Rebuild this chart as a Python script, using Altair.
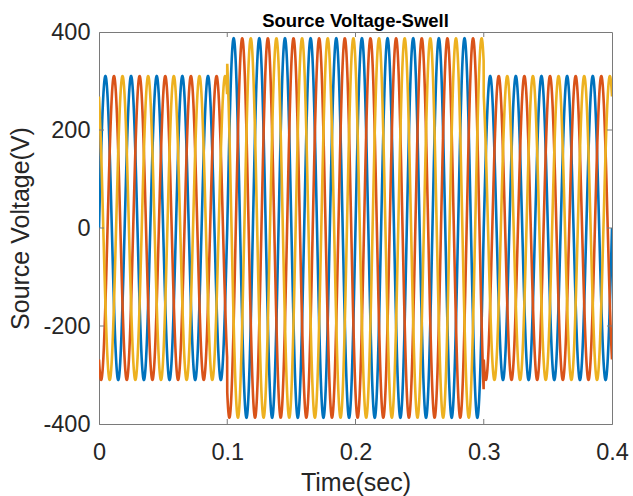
import numpy as np
import pandas as pd
import altair as alt

# Values
frequency_hz = [50]
segment_starts = [0.0, 0.1, 0.3]
segment_ends = [0.1, 0.3, 0.4]
segment_amplitudes = [310, 387, 310]
phase_names = ["Va", "Vb", "Vc"]
phase_shift_deg = [0, -120, 120]
phase_colors = ["#0072BD", "#D95319", "#EDB120"]
x_ticks = [0, 0.1, 0.2, 0.3, 0.4]
y_ticks = [-400, -200, 0, 200, 400]

t = np.linspace(0, 0.4, 4001)
amp = np.zeros_like(t)
for s, e, a in zip(segment_starts, segment_ends, segment_amplitudes):
    amp[(t >= s - 1e-12) & (t <= e + 1e-12)] = a
rows = []
for name, ph in zip(phase_names, phase_shift_deg):
    v = amp * np.sin(2 * np.pi * frequency_hz[0] * t + np.deg2rad(ph))
    rows.append(pd.DataFrame({"t": t, "v": v, "phase": name}))
df = pd.concat(rows, ignore_index=True)

W, H = 513, 392
xs = alt.Scale(domain=[0, 0.4], nice=False, zero=False)
ys = alt.Scale(domain=[-400, 400], nice=False)

lines = alt.Chart(df).mark_line(strokeWidth=2.6, clip=True).encode(
    x=alt.X("t:Q", scale=xs,
            axis=alt.Axis(values=x_ticks, labelExpr="datum.value + ''", title="Time(sec)",
                          labelFlush=False, labelOverlap=False,
                          grid=False, ticks=False, labelPadding=16, titlePadding=7)),
    y=alt.Y("v:Q", scale=ys,
            axis=alt.Axis(values=y_ticks, labelExpr="datum.value + ''", title="Source Voltage(V)",
                          labelFlush=False, labelOverlap=False,
                          grid=False, ticks=False, labelPadding=9, titlePadding=9)),
    color=alt.Color("phase:N", scale=alt.Scale(domain=phase_names, range=phase_colors), legend=None),
)

xt = pd.DataFrame({"x": x_ticks[1:-1]})
yt = pd.DataFrame({"y": y_ticks[1:-1]})
tick_color = "#7a7a7a"
xb = alt.Chart(xt).mark_rule(color=tick_color, strokeWidth=1).encode(
    x=alt.X("x:Q", scale=xs), y=alt.value(H), y2=alt.value(H - 5))
xtp = alt.Chart(xt).mark_rule(color=tick_color, strokeWidth=1).encode(
    x=alt.X("x:Q", scale=xs), y=alt.value(0), y2=alt.value(5))
yl = alt.Chart(yt).mark_rule(color=tick_color, strokeWidth=1).encode(
    y=alt.Y("y:Q", scale=ys), x=alt.value(0), x2=alt.value(5))
yr = alt.Chart(yt).mark_rule(color=tick_color, strokeWidth=1).encode(
    y=alt.Y("y:Q", scale=ys), x=alt.value(W), x2=alt.value(W - 5))

chart = alt.layer(lines, xb, xtp, yl, yr).properties(
    width=W, height=H,
    background="white",
    title=alt.TitleParams("Source Voltage-Swell", font="Liberation Sans", fontSize=18.5,
                          fontWeight="bold", color="#000000", offset=-10, anchor="middle"),
    autosize=alt.AutoSizeParams(type="none"),
    padding={"left": 99, "top": 32, "right": 21, "bottom": 72},
).configure_view(stroke=tick_color, strokeWidth=1).configure_axis(
    labelFont="Liberation Sans", titleFont="Liberation Sans",
    labelFontSize=23.5, titleFontSize=25, labelColor="#262626", titleColor="#262626",
    titleFontWeight="normal", domainColor=tick_color, domainWidth=1,
)

chart.save("out.html", embed_options={"renderer": "svg", "actions": False})
